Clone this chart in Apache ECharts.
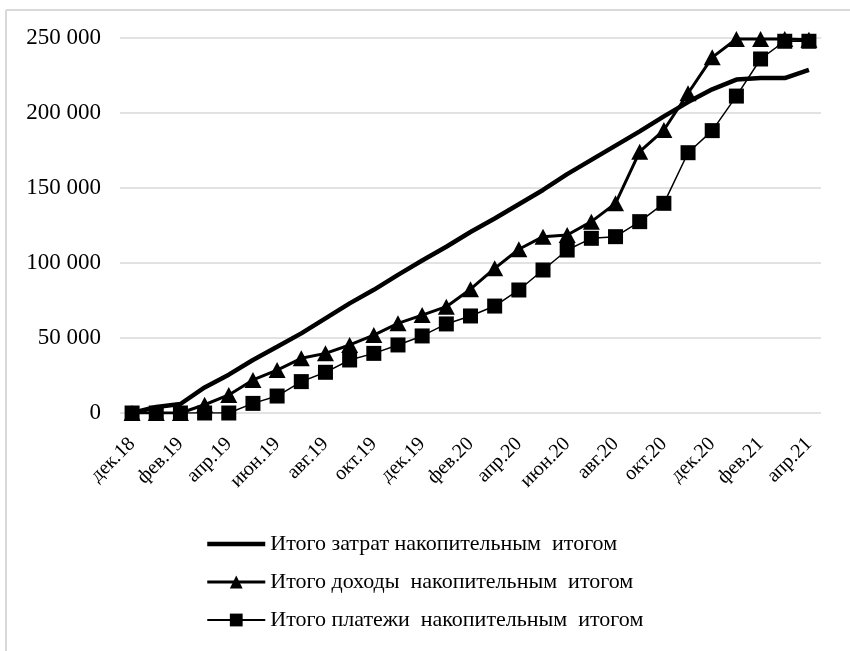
<!DOCTYPE html>
<html><head><meta charset="utf-8">
<script src="https://cdn.jsdelivr.net/npm/echarts@6/dist/echarts.min.js"></script>
<style>html,body{margin:0;padding:0;background:#fff}#c{width:850px;height:651px}</style>
</head><body><div id="c"></div>
<script>
const categories = ['дек.18','янв.19','фев.19','мар.19','апр.19','май.19','июн.19','июл.19','авг.19','сен.19','окт.19','ноя.19','дек.19','янв.20','фев.20','мар.20','апр.20','май.20','июн.20','июл.20','авг.20','сен.20','окт.20','ноя.20','дек.20','янв.21','фев.21','мар.21','апр.21'];
const costs = [0,4000,6000,17000,25500,35300,44100,53000,63000,73000,82000,92000,101500,110700,120500,129500,139000,148500,159000,168500,178000,187500,197500,207000,215500,222000,223000,223000,228500];
const incomes = [0,0,0,5500,12000,22000,28600,36400,39700,45300,51900,59700,65200,70800,82400,96300,109000,117400,118500,127400,139600,174000,188400,212900,236800,249000,249000,249000,248500];
const payments = [0,0,0,0,0,6400,11300,20900,27100,35300,39700,45300,51300,59300,64600,71200,81900,95200,108500,116300,117400,127400,139600,173300,188000,211000,235700,247500,247500];
const seriesNames = ['Итого затрат накопительным итогом','Итого доходы накопительным итогом','Итого платежи накопительным итогом'];
const legendLabels = ['Итого затрат накопительным  итогом','Итого доходы  накопительным  итогом','Итого платежи  накопительным  итогом'];
const yTicks = {min:0, max:250000, interval:50000};

const font = 'Liberation Serif';
const chart = echarts.init(document.getElementById('c'));
chart.setOption({
  animation:false,
  backgroundColor:'#fff',
  textStyle:{fontFamily:font,color:'#000'},
  graphic:[
    {type:'line',shape:{x1:6,y1:10,x2:850,y2:10},style:{stroke:'#d9d9d9',lineWidth:2},silent:true},
    {type:'line',shape:{x1:6,y1:10,x2:6,y2:651},style:{stroke:'#d9d9d9',lineWidth:2},silent:true}
  ],
  grid:{left:120,right:29,top:37.5,bottom:238,containLabel:false},
  xAxis:{
    type:'category',data:categories,boundaryGap:true,
    axisLine:{show:false},axisTick:{show:false},
    axisLabel:{interval:1,rotate:45,fontFamily:font,fontSize:20,color:'#000',margin:28}
  },
  yAxis:{
    type:'value',min:yTicks.min,max:yTicks.max,interval:yTicks.interval,
    axisLine:{show:false},axisTick:{show:false},
    splitLine:{lineStyle:{color:'#d9d9d9',width:1.5}},
    axisLabel:{fontFamily:font,fontSize:23,color:'#000',margin:19,
      formatter:v=>String(v).replace(/\B(?=(\d{3})+(?!\d))/g,' ')}
  },
  legend:{
    orient:'vertical',left:205,top:533,padding:0,itemWidth:58,itemHeight:16,itemGap:16,
    textStyle:{fontFamily:font,fontSize:22,color:'#000'},
    formatter:name=>legendLabels[seriesNames.indexOf(name)],
    data:[
      {name:seriesNames[0],itemStyle:{opacity:0},lineStyle:{width:4.5,color:'#000'}},
      {name:seriesNames[1],lineStyle:{width:3,color:'#000'}},
      {name:seriesNames[2],lineStyle:{width:2,color:'#000'}}
    ]
  },
  series:[
    {name:seriesNames[0],type:'line',data:costs,symbol:'none',
      lineStyle:{color:'#000',width:4.5},itemStyle:{color:'#000'},z:3},
    {name:seriesNames[1],type:'line',data:incomes,symbol:'triangle',symbolSize:[17,16],showAllSymbol:true,
      lineStyle:{color:'#000',width:3},itemStyle:{color:'#000'},z:4},
    {name:seriesNames[2],type:'line',data:payments,symbol:'rect',symbolSize:15,showAllSymbol:true,
      lineStyle:{color:'#000',width:1.5},itemStyle:{color:'#000'},z:5}
  ]
});
</script></body></html>
